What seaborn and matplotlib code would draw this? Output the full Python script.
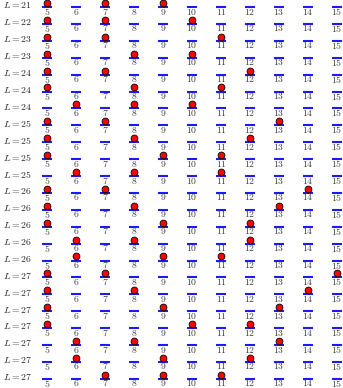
import numpy as np
import pandas as pd
import matplotlib
matplotlib.use('Agg')
import matplotlib.pyplot as plt
import seaborn as sns

sns.set_style('white')
plt.rcParams['mathtext.fontset'] = 'cm'

# row labels (ruler length) and the marked positions of each row
L_values = [21, 22, 23, 23, 24, 24, 24, 25, 25, 25, 25,
            26, 26, 26, 26, 26, 27, 27, 27, 27, 27, 27, 27]
marks = [[5, 7, 9], [5, 7, 10], [5, 7, 11], [5, 8, 10], [5, 7, 12],
         [5, 8, 11], [6, 8, 10], [5, 7, 13], [5, 8, 12], [5, 9, 11],
         [6, 8, 11], [5, 7, 14], [5, 8, 13], [5, 9, 12], [6, 8, 12],
         [6, 9, 11], [5, 7, 15], [5, 8, 14], [5, 9, 13], [5, 10, 12],
         [6, 8, 13], [6, 9, 12], [7, 9, 11]]
positions = list(range(5, 16))

n_rows = len(L_values)
cells = pd.DataFrame([(r, p) for r in range(n_rows) for p in positions],
                     columns=['row', 'pos'])
dots = pd.DataFrame([(r, p) for r, ms in enumerate(marks) for p in ms],
                    columns=['row', 'pos'])
dots['y'] = dots['row'] - 0.24

fig = plt.figure(figsize=(3.43, 3.88), dpi=100)
ax = fig.add_axes([0, 0, 1, 1])

# blue tick segments
ax.hlines(cells['row'], cells['pos'] - 0.17, cells['pos'] + 0.17,
          color='#1a1aff', lw=1.5, zorder=2)

# numbers under each segment
for r, p in zip(cells['row'], cells['pos']):
    ax.text(p, r + 0.27, '$%d$' % p, ha='center', va='center', fontsize=7,
            color='#3a3a3a', zorder=3)

# red marks sitting on the segments
sns.scatterplot(data=dots, x='pos', y='y', ax=ax, s=24,
                color='red', edgecolor='black', linewidth=0.6,
                legend=False)
ax.collections[-1].set_zorder(6)
ax.collections[-1].set_clip_on(False)

# row labels
for r, L in enumerate(L_values):
    ax.text(3.48, r - 0.1, '$L=%d$' % L, ha='left', va='center',
            fontsize=7, color='#222222')

ax.set_xlim(5 - 47 / 29, 5 + 296 / 29)
ax.set_ylim((388 - 7) / 16.9, -7 / 16.9)
ax.axis('off')

fig.savefig('out.png', dpi=100)
